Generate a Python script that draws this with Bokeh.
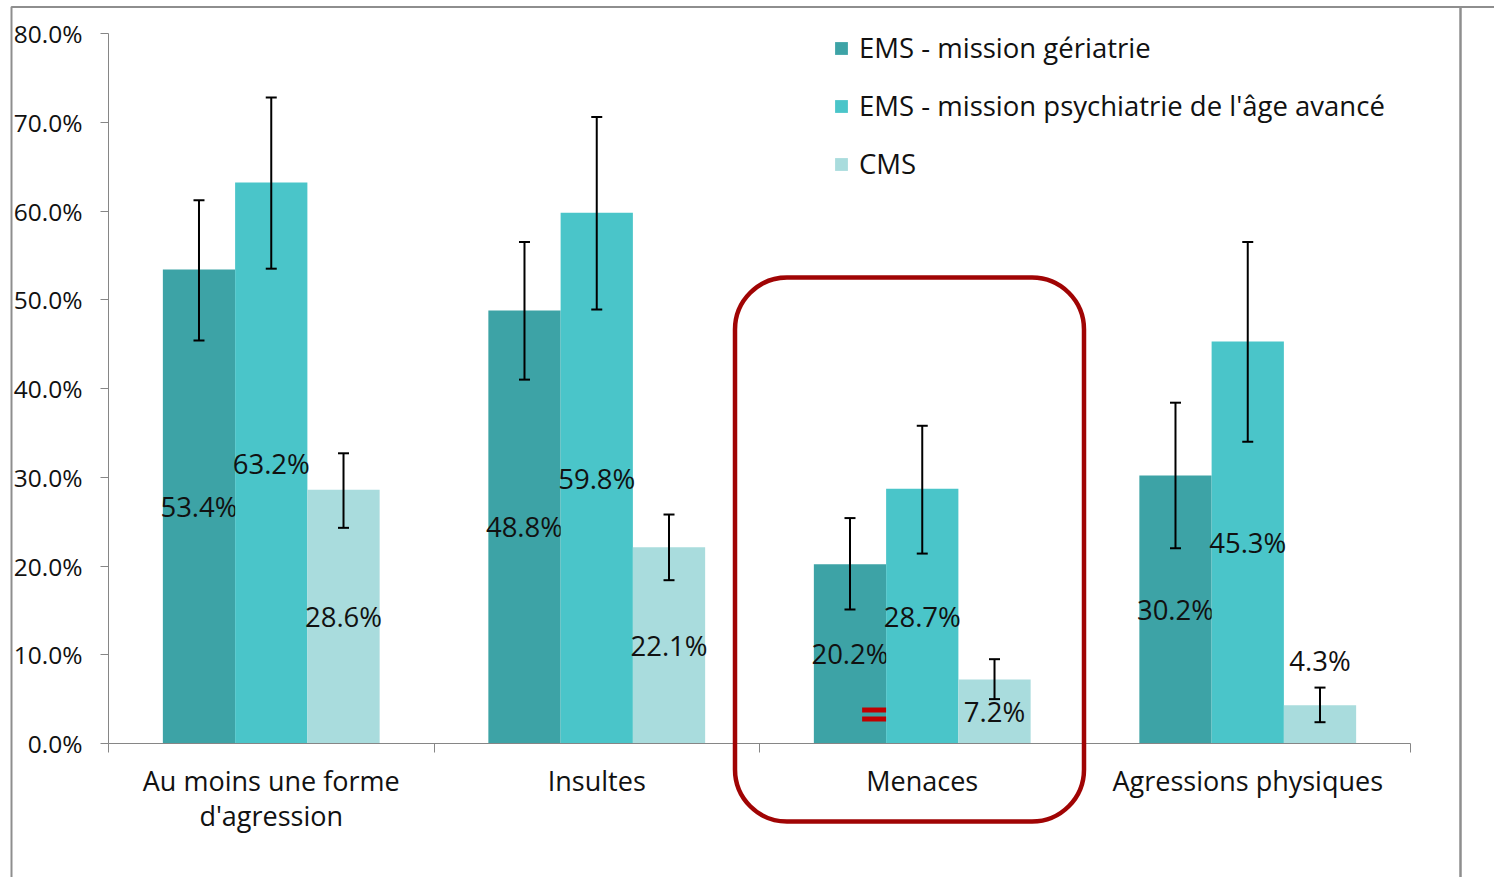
import numpy as np
from bokeh.plotting import figure
from bokeh.models import (FixedTicker, PrintfTickFormatter, BoxAnnotation,
                          ColumnDataSource, Legend, LegendItem, Range1d)
from bokeh.core.properties import value
from bokeh.embed import file_html
from bokeh.resources import INLINE

categories = ["Au moins une forme\nd'agression", "Insultes", "Menaces", "Agressions physiques"]
series = ["EMS - mission gériatrie", "EMS - mission psychiatrie de l'âge avancé", "CMS"]

ems_ger = [53.4, 48.8, 20.2, 30.2]
ems_ger_lo = [45.4, 41.0, 15.1, 22.0]
ems_ger_hi = [61.2, 56.5, 25.4, 38.4]

ems_psy = [63.2, 59.8, 28.7, 45.3]
ems_psy_lo = [53.5, 48.9, 21.4, 34.0]
ems_psy_hi = [72.8, 70.6, 35.8, 56.5]

cms = [28.6, 22.1, 7.2, 4.3]
cms_lo = [24.3, 18.4, 5.0, 2.4]
cms_hi = [32.7, 25.8, 9.5, 6.3]

y_ticks = [0, 10, 20, 30, 40, 50, 60, 70, 80]

colors = ["#3DA3A6", "#4AC5C9", "#A9DCDD"]
FONT = "Open Sans"

W, H = 1494, 877
# plotting region inside the canvas (pixels)
PL, PR, PT, PB = 108, 1410, 33, 743
n = len(categories)
xpx = (PR - PL) / n          # pixels per category
ypx = (PB - PT) / 80.0       # pixels per percent


def xd(px):
    return (px - PL) / xpx


def yd(py):
    return (PB - py) / ypx


p = figure(width=W, height=H,
           x_range=Range1d(xd(0), xd(W)), y_range=Range1d(yd(H), yd(0)),
           output_backend="svg", toolbar_location=None,
           min_border=0, min_border_left=0, min_border_right=0,
           min_border_top=0, min_border_bottom=0)
p.outline_line_color = None
p.xgrid.visible = False
p.ygrid.visible = False
p.background_fill_color = "white"
p.border_fill_color = "white"

# y axis
ya = p.yaxis[0]
ya.fixed_location = 0
ya.bounds = (0, 80)
ya.ticker = FixedTicker(ticks=y_ticks, minor_ticks=[])
ya.formatter = PrintfTickFormatter(format="%.1f%%")
ya.axis_line_color = "#868686"
ya.major_tick_line_color = "#868686"
ya.major_tick_in = 0
ya.major_tick_out = 8
ya.major_label_standoff = 18
ya.major_label_text_font = FONT
ya.major_label_text_font_size = "24.5px"
ya.major_label_text_color = "#111111"

# x axis
xa = p.xaxis[0]
xa.fixed_location = 0
xa.bounds = (0, n)
centers = [i + 0.5 for i in range(n)]
xa.ticker = FixedTicker(ticks=centers, minor_ticks=list(range(n + 1)))
xa.major_label_overrides = {c: lab for c, lab in zip(centers, categories)}
xa.axis_line_color = "#868686"
xa.major_tick_line_color = None
xa.minor_tick_line_color = "#868686"
xa.minor_tick_in = 0
xa.minor_tick_out = 9
xa.major_tick_in = 0
xa.major_tick_out = 0
xa.major_label_standoff = 9
xa.major_label_text_font = FONT
xa.major_label_text_font_size = "27px"
xa.major_label_text_color = "#111111"
xa.major_label_text_line_height = 0.97

bw = 0.222
offsets = [-bw, 0.0, bw]
vals = [ems_ger, ems_psy, cms]
los = [ems_ger_lo, ems_psy_lo, cms_lo]
his = [ems_ger_hi, ems_psy_hi, cms_hi]

items = []
cap = 5.5 / xpx
for k in range(3):
    xs = [c + offsets[k] for c in centers]
    src = ColumnDataSource(dict(x=xs, top=vals[k], lo=los[k], hi=his[k]))
    r = p.vbar(x="x", top="top", width=bw, bottom=0, source=src,
               fill_color=colors[k], line_color=None)
    items.append(LegendItem(label=series[k], renderers=[r]))
    # error bars
    p.segment(x0="x", x1="x", y0="lo", y1="hi", source=src, line_color="black", line_width=2)
    p.segment(x0=[x - cap for x in xs], x1=[x + cap for x in xs], y0=los[k], y1=los[k],
              line_color="black", line_width=2)
    p.segment(x0=[x - cap for x in xs], x1=[x + cap for x in xs], y0=his[k], y1=his[k],
              line_color="black", line_width=2)
    # data labels: centred in the bar; small bars get the label above the error bar
    ly = [v / 2 if v >= 5 else h + 3 for v, h in zip(vals[k], his[k])]
    p.text(x=xs, y=ly, text=[f"{v:.1f}%" for v in vals[k]], text_align="center",
           text_baseline="middle", text_font=value(FONT), text_font_size="27.5px",
           text_color="#111111")

legend = Legend(items=items, location=(833, 695), orientation="vertical")
legend.background_fill_alpha = 0
legend.border_line_color = None
legend.padding = 0
legend.margin = 0
legend.spacing = 21
legend.glyph_width = 16
legend.glyph_height = 16
legend.label_standoff = 10
legend.label_text_font = FONT
legend.label_text_font_size = "27.5px"
legend.label_text_color = "#111111"
p.add_layout(legend)

# red "=" marker on the Menaces group (right part of the first bar)
eq_x = centers[2] - bw / 2 - 12 / xpx
eq_w = 24 / xpx
eq_h = 5 / ypx
p.rect(x=[eq_x, eq_x], y=[yd(709.5), yd(718.5)], width=eq_w, height=eq_h,
       fill_color="#C00000", line_color=None)

# red rounded highlight box around the "Menaces" group
hl = BoxAnnotation(left=xd(734.5), right=xd(1083.5), top=yd(277), bottom=yd(821),
                   fill_alpha=0, line_color="#A00404", line_alpha=1.0, line_width=4.5,
                   border_radius=52)
p.add_layout(hl)

# outer frame lines
frame = BoxAnnotation(left=xd(11), right=xd(1460), top=yd(6.5), bottom=yd(H + 40),
                      fill_alpha=0, line_color="#8E8E8E", line_alpha=1.0, line_width=2)
p.add_layout(frame)
frame2 = BoxAnnotation(left=xd(1460), right=xd(W + 40), top=yd(6.5), bottom=yd(H + 40),
                       fill_alpha=0, line_color="#8E8E8E", line_alpha=1.0, line_width=2)
p.add_layout(frame2)

open("out.html", "w").write(file_html(p, INLINE))
